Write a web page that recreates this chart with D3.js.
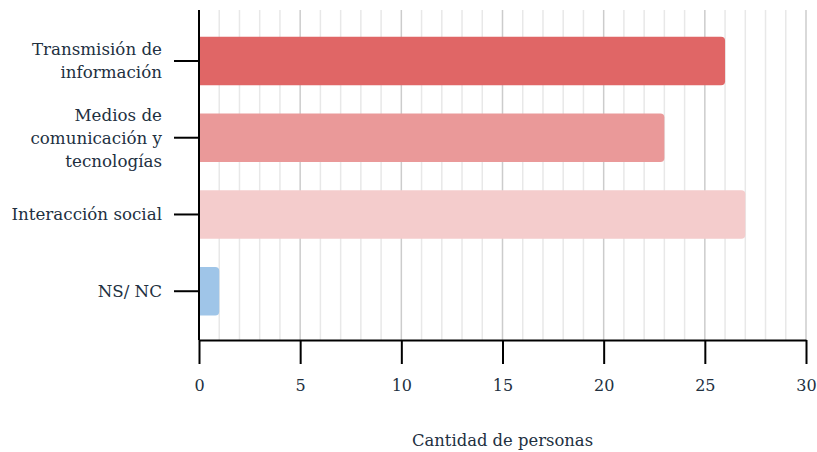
<!DOCTYPE html>
<html>
<head>
<meta charset="utf-8">
<script src="https://cdn.jsdelivr.net/npm/d3@7"></script>
<style>
  html, body { margin: 0; padding: 0; background: #fff; }
  svg { display: block; }
</style>
</head>
<body>
<svg id="chart" width="817" height="452"></svg>
<script>
// Categories (each entry is an array of label lines) and their counts
const categories = [
  ["Transmisión de", "información"],
  ["Medios de", "comunicación y", "tecnologías"],
  ["Interacción social"],
  ["NS/ NC"]
];
const values = [26, 23, 27, 1];
const barColors = ["#e06666", "#ea9999", "#f4cccc", "#9fc5e8"];
const xTicks = [0, 5, 10, 15, 20, 25, 30];
const xTitle = "Cantidad de personas";

const FONT = "'DejaVu Serif'";
const TEXT_COLOR = "#22303f";

const svg = d3.select("#chart");
const plotLeft = 199, plotRight = 806, plotTop = 10, plotBottom = 340;

const x = d3.scaleLinear().domain([0, 30]).range([plotLeft, plotRight]);
const y = d3.scaleBand()
  .domain(d3.range(categories.length))
  .range([22.6, 329.6])
  .paddingInner(0.37)
  .paddingOuter(0.185);

// Grid: light lines every unit, darker every 5
const grid = svg.append("g");
grid.selectAll("line.minor")
  .data(d3.range(1, 31).filter(v => v % 5 !== 0))
  .join("line")
  .attr("x1", d => x(d)).attr("x2", d => x(d))
  .attr("y1", plotTop).attr("y2", plotBottom)
  .attr("stroke", "#e8e8e8").attr("stroke-width", 1.5);
grid.selectAll("line.major")
  .data(xTicks.filter(v => v > 0))
  .join("line")
  .attr("x1", d => x(d)).attr("x2", d => x(d))
  .attr("y1", plotTop).attr("y2", plotBottom)
  .attr("stroke", "#cccccc").attr("stroke-width", 1.5);

// Bars with rounded right end
const r = 4;
svg.append("g").selectAll("path")
  .data(values)
  .join("path")
  .attr("fill", (d, i) => barColors[i])
  .attr("d", (d, i) => {
    const x0 = x(0), x1 = x(d), y0 = y(i), h = y.bandwidth();
    return `M${x0},${y0} H${x1 - r} Q${x1},${y0} ${x1},${y0 + r} V${y0 + h - r} Q${x1},${y0 + h} ${x1 - r},${y0 + h} H${x0} Z`;
  });

// X axis
const xAxis = svg.append("g")
  .attr("transform", `translate(0,${plotBottom})`)
  .call(d3.axisBottom(x).tickValues(xTicks).tickSize(24).tickPadding(8).tickSizeOuter(0));
xAxis.select(".domain").attr("stroke", "#000").attr("stroke-width", 2);
xAxis.selectAll(".tick line").attr("stroke", "#000").attr("stroke-width", 2);
xAxis.selectAll(".tick text")
  .style("font-family", FONT)
  .style("font-size", "16px")
  .style("fill", TEXT_COLOR)
  .attr("dy", "1.2em");

// Y axis line
svg.append("line")
  .attr("x1", plotLeft).attr("x2", plotLeft)
  .attr("y1", plotTop).attr("y2", plotBottom)
  .attr("stroke", "#000").attr("stroke-width", 2);

// Y ticks and multi-line labels
const yt = svg.append("g").selectAll("g")
  .data(categories)
  .join("g")
  .attr("transform", (d, i) => `translate(0,${y(i) + y.bandwidth() / 2})`);
yt.append("line")
  .attr("x1", 174).attr("x2", plotLeft)
  .attr("stroke", "#000").attr("stroke-width", 2);
yt.append("text")
  .attr("text-anchor", "end")
  .style("font-family", FONT)
  .style("font-size", "16.7px")
  .style("fill", TEXT_COLOR)
  .each(function(lines) {
    const t = d3.select(this);
    const lh = 23;
    const off = -(lines.length - 1) * lh / 2;
    lines.forEach((ln, k) => {
      t.append("tspan")
        .attr("x", 162)
        .attr("y", off + k * lh)
        .attr("dy", "0.35em")
        .text(ln);
    });
  });

// X axis title
svg.append("text")
  .attr("x", (plotLeft + plotRight) / 2)
  .attr("y", 440)
  .attr("dy", "0.35em")
  .attr("text-anchor", "middle")
  .style("font-family", FONT)
  .style("font-size", "16.4px")
  .style("fill", TEXT_COLOR)
  .text(xTitle);
</script>
</body>
</html>
